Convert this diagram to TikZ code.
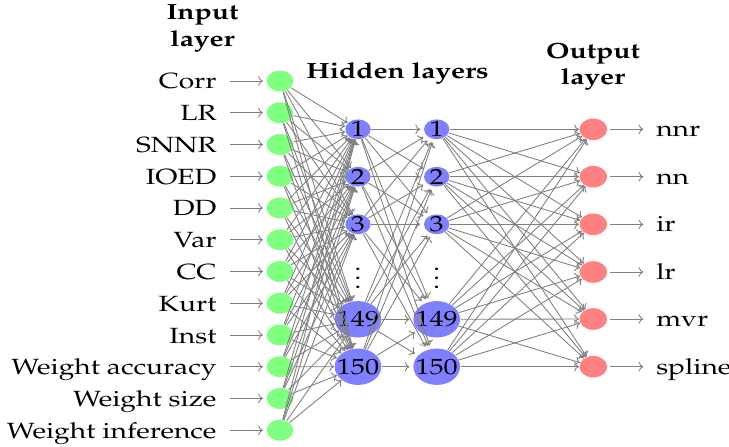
\documentclass[tikz,border=0pt]{standalone}
\usepackage[T1]{fontenc}
\usepackage{mathpazo}
\usetikzlibrary{arrows.meta}
\begin{document}
\begin{tikzpicture}[x=0.4545pt,y=-0.4545pt,
  stretch/.style={xscale=1.28},
  conn/.style={draw=gray, line width=0.4pt, -{To[length=2.2pt,width=4.4pt]}},
  innode/.style={stretch, circle, fill=green!50, minimum size=9.5pt, inner sep=0pt},
  hidnode/.style={stretch, circle, fill=blue!50, minimum size=9pt, inner sep=0pt, font=\normalsize},
  outnode/.style={stretch, circle, fill=red!50, minimum size=9.8pt, inner sep=0pt},
  lablft/.style={stretch, anchor=base east, inner sep=0pt},
  labrgt/.style={stretch, anchor=base west, inner sep=0pt},
  ttl/.style={stretch, font=\bfseries, align=center, inner sep=0pt}
]
\useasboundingbox (0,0) rectangle (729,447);

% titles
\node[ttl, anchor=north] (tin) at (202.5,4.5) {Input\\layer};
\node[ttl, anchor=base] (thid) at (397.5,78.3) {Hidden layers};
\node[ttl, anchor=north] (tout) at (593,42.5) {Output\\layer};

% input layer
\foreach \t [count=\i] in {Corr,LR,SNNR,IOED,DD,Var,CC,Kurt,Inst,Weight accuracy,Weight size,Weight inference}{
  \pgfmathsetmacro{\yy}{81+31.75*(\i-1)}
  \node[innode] (i\i) at (280,\yy) {};
  \node[lablft] (l\i) at (217,\yy+8) {\t};
  \draw[conn, shorten <=5.8pt, shorten >=1.4pt] (l\i.east |- i\i.west) -- (i\i.west);
}

% hidden layers
\foreach \n/\yy in {1/129.3,2/176.7,3/224.3,149/319.3,150/366.7}{
  \node[hidnode] (a\n) at (358,\yy) {\n};
  \node[hidnode] (b\n) at (436.7,\yy) {\n};
}
\node[stretch, anchor=base, inner sep=0pt] (da) at (358,288.5) {$\vdots$};
\node[stretch, anchor=base, inner sep=0pt] (db) at (436.7,288.5) {$\vdots$};

% output layer
\foreach \t/\yy [count=\k] in {nnr/129.3,nn/176.7,ir/224.3,lr/272,mvr/319,spline/366.7}{
  \node[outnode] (o\k) at (593.3,\yy) {};
  \node[labrgt] (r\k) at (655.7,\yy+7.5) {\t};
  \draw[conn, shorten <=1.2pt, shorten >=5.6pt] (o\k.east) -- (o\k.east -| r\k.west);
}

% connections
\foreach \i in {1,...,12}{
  \foreach \n in {1,2,3,149,150}{
    \draw[conn] (i\i) -- (a\n);
  }
}
\foreach \m in {1,2,3,149,150}{
  \foreach \n in {1,2,3,149,150}{
    \draw[conn, shorten >=1.5pt] (a\m) -- (b\n);
  }
}
\foreach \m in {1,2,3,149,150}{
  \foreach \k in {1,...,6}{
    \draw[conn] (b\m) -- (o\k);
  }
}
\end{tikzpicture}
\end{document}
